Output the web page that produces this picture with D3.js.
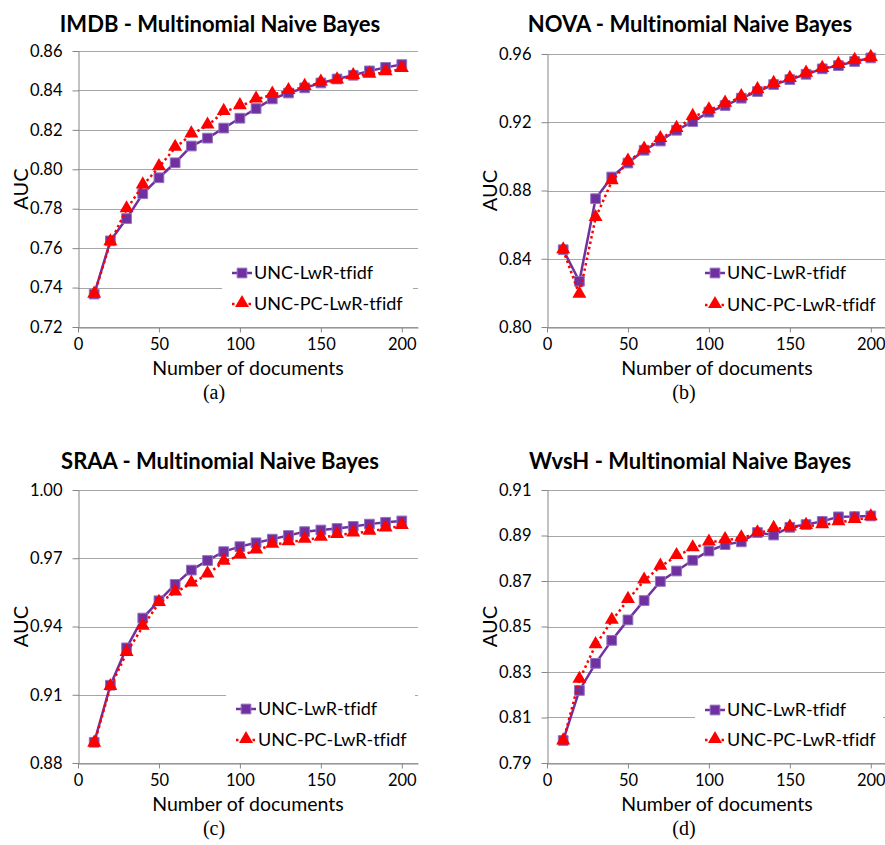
<!DOCTYPE html>
<html>
<head>
<meta charset="utf-8">
<script src="https://cdn.jsdelivr.net/npm/d3@7"></script>
<style>
  body { margin: 0; background: #fff; }
  svg { display: block; font-family: Lato, "Noto Sans", sans-serif; font-variant-ligatures: none; }
</style>
</head>
<body>
<svg id="drawing_region"></svg>
<script>
// number of documents (x values)
const docs = [10, 20, 30, 40, 50, 60, 70, 80, 90, 100, 110, 120, 130, 140, 150, 160, 170, 180, 190, 200];
const xTicks = [0, 50, 100, 150, 200];

const imdbLwr = [0.7367, 0.7637, 0.7750, 0.7876, 0.7957, 0.8033, 0.8118, 0.8158, 0.8209, 0.8259,
                 0.8308, 0.8357, 0.8387, 0.8413, 0.8438, 0.8458, 0.8477, 0.8499, 0.8517, 0.8531];
const imdbPc  = [0.7364, 0.7630, 0.7797, 0.7918, 0.8011, 0.8109, 0.8177, 0.8222, 0.8291, 0.8320,
                 0.8354, 0.8379, 0.8397, 0.8418, 0.8440, 0.8451, 0.8473, 0.8480, 0.8492, 0.8509];

const novaLwr = [0.8453, 0.8268, 0.8752, 0.8879, 0.8961, 0.9036, 0.9090, 0.9153, 0.9204, 0.9259,
                 0.9298, 0.9341, 0.9380, 0.9421, 0.9450, 0.9481, 0.9513, 0.9532, 0.9556, 0.9577];
const novaPc  = [0.8450, 0.8190, 0.8639, 0.8854, 0.8969, 0.9040, 0.9102, 0.9161, 0.9231, 0.9270,
                 0.9309, 0.9347, 0.9388, 0.9425, 0.9454, 0.9485, 0.9513, 0.9536, 0.9560, 0.9577];

const sraaLwr = [0.8891, 0.9142, 0.9306, 0.9437, 0.9513, 0.9585, 0.9648, 0.9690, 0.9729, 0.9751,
                 0.9768, 0.9784, 0.9800, 0.9817, 0.9824, 0.9831, 0.9840, 0.9850, 0.9858, 0.9864];
const sraaPc  = [0.8885, 0.9134, 0.9284, 0.9399, 0.9504, 0.9550, 0.9589, 0.9629, 0.9685, 0.9712,
                 0.9734, 0.9759, 0.9770, 0.9781, 0.9790, 0.9802, 0.9809, 0.9817, 0.9831, 0.9842];

const wvshLwr = [0.7999, 0.8219, 0.8338, 0.8439, 0.8529, 0.8614, 0.8698, 0.8744, 0.8791, 0.8832,
                 0.8860, 0.8872, 0.8913, 0.8902, 0.8936, 0.8948, 0.8962, 0.8982, 0.8983, 0.8986];
const wvshPc  = [0.7995, 0.8266, 0.8418, 0.8525, 0.8617, 0.8702, 0.8763, 0.8810, 0.8844, 0.8869,
                 0.8880, 0.8888, 0.8910, 0.8929, 0.8935, 0.8942, 0.8945, 0.8958, 0.8968, 0.8980];

const imdbTicks = [0.72, 0.74, 0.76, 0.78, 0.80, 0.82, 0.84, 0.86];
const novaTicks = [0.80, 0.84, 0.88, 0.92, 0.96];
const sraaTicks = [0.88, 0.91, 0.94, 0.97, 1.00];
const wvshTicks = [0.79, 0.81, 0.83, 0.85, 0.87, 0.89, 0.91];

const seriesNames = ['UNC-LwR-tfidf', 'UNC-PC-LwR-tfidf'];

const purple = '#7030a0';
const red = '#ff0000';

const svg = d3.select('#drawing_region')
    .attr('width', 885)
    .attr('height', 845);

const panels = [
    { title: 'IMDB - Multinomial Naive Bayes', caption: '(a)', lwr: imdbLwr, pc: imdbPc, ticks: imdbTicks,
      cx: 220, titleY: 32, left: 78, top: 51, bottom: 327, legend: {x: 222, y: 252, w: 191, h: 70, r1: 273, r2: 304} },
    { title: 'NOVA - Multinomial Naive Bayes', caption: '(b)', lwr: novaLwr, pc: novaPc, ticks: novaTicks,
      cx: 690, titleY: 32, left: 547, top: 54, bottom: 327, legend: {x: 695, y: 262, w: 188, h: 62, r1: 273, r2: 305} },
    { title: 'SRAA - Multinomial Naive Bayes', caption: '(c)', lwr: sraaLwr, pc: sraaPc, ticks: sraaTicks,
      cx: 220, titleY: 469, left: 78, top: 490, bottom: 763, legend: {x: 226, y: 690, w: 189, h: 66, r1: 709, r2: 740} },
    { title: 'WvsH - Multinomial Naive Bayes', caption: '(d)', lwr: wvshLwr, pc: wvshPc, ticks: wvshTicks,
      cx: 690, titleY: 469, left: 547, top: 490, bottom: 763, legend: {x: 695, y: 692, w: 188, h: 64, r1: 710, r2: 740} }
];

const square = d3.symbol().type(d3.symbolSquare).size(95);
const triangle = d3.symbol().type(d3.symbolTriangle).size(85);

panels.forEach(p => {
    const xscale = d3.scaleLinear().domain([0, 210]).range([p.left, p.left + 340]);
    const yscale = d3.scaleLinear()
        .domain([p.ticks[0], p.ticks[p.ticks.length - 1]])
        .range([p.bottom, p.top]);

    const g = svg.append('g');

    // gridlines
    g.selectAll('.grid')
        .data(p.ticks)
        .enter()
        .append('line')
        .attr('x1', p.left)
        .attr('x2', xscale(210))
        .attr('y1', d => Math.round(yscale(d)) + 0.5)
        .attr('y2', d => Math.round(yscale(d)) + 0.5)
        .attr('stroke', '#a6a6a6')
        .attr('stroke-width', 1);

    const xaxis = d3.axisBottom(xscale)
        .tickValues(xTicks)
        .tickSize(5)
        .tickSizeOuter(0)
        .tickPadding(6);
    const yaxis = d3.axisLeft(yscale)
        .tickValues(p.ticks)
        .tickSize(6)
        .tickSizeOuter(0)
        .tickPadding(10)
        .tickFormat(d3.format('.2f'));

    const xg = g.append('g')
        .attr('transform', `translate(0, ${Math.round(p.bottom) + 0.5})`)
        .call(xaxis);
    const yg = g.append('g')
        .attr('transform', `translate(${p.left + 0.5}, 0)`)
        .call(yaxis);

    [xg, yg].forEach(a => {
        a.select('.domain').attr('stroke', '#868686');
        a.selectAll('.tick line').attr('stroke', '#868686');
        a.selectAll('.tick text')
            .attr('fill', '#000')
            .style('font-size', '16.5px')
            .style('font-family', 'Lato, sans-serif');
    });

    // series 1: purple squares, solid
    const line = d3.line()
        .x((d, i) => xscale(docs[i]))
        .y(d => yscale(d));

    g.append('path')
        .attr('d', line(p.lwr))
        .attr('fill', 'none')
        .attr('stroke', purple)
        .attr('stroke-width', 2.5);

    g.selectAll('.sq')
        .data(p.lwr)
        .enter()
        .append('path')
        .attr('d', square)
        .attr('transform', (d, i) => `translate(${xscale(docs[i])}, ${yscale(d)})`)
        .attr('fill', purple)
        .attr('stroke', '#9273c0')
        .attr('stroke-width', 1);

    // series 2: red triangles, dotted
    g.append('path')
        .attr('d', line(p.pc))
        .attr('fill', 'none')
        .attr('stroke', red)
        .attr('stroke-width', 2.5)
        .attr('stroke-dasharray', '2.5,3');

    g.selectAll('.tri')
        .data(p.pc)
        .enter()
        .append('path')
        .attr('d', triangle)
        .attr('transform', (d, i) => `translate(${xscale(docs[i])}, ${yscale(d) - 1})`)
        .attr('fill', red);

    // legend
    const L = p.legend;
    g.append('rect')
        .attr('x', L.x).attr('y', L.y)
        .attr('width', L.w).attr('height', L.h)
        .attr('fill', '#fff');

    const sx = L.x + 10;
    g.append('line')
        .attr('x1', sx).attr('x2', sx + 20)
        .attr('y1', L.r1).attr('y2', L.r1)
        .attr('stroke', purple).attr('stroke-width', 2.5);
    g.append('path')
        .attr('d', square)
        .attr('transform', `translate(${sx + 10}, ${L.r1})`)
        .attr('fill', purple)
        .attr('stroke', '#9273c0');
    g.append('line')
        .attr('x1', sx).attr('x2', sx + 20)
        .attr('y1', L.r2).attr('y2', L.r2)
        .attr('stroke', red).attr('stroke-width', 2.5)
        .attr('stroke-dasharray', '2.5,3');
    g.append('path')
        .attr('d', triangle)
        .attr('transform', `translate(${sx + 10}, ${L.r2 - 1})`)
        .attr('fill', red);

    g.selectAll('.legtext')
        .data(seriesNames)
        .enter()
        .append('text')
        .attr('x', sx + 22)
        .attr('y', (d, i) => i === 0 ? L.r1 : L.r2)
        .attr('dy', '0.35em')
        .style('font-size', '18px')
        .text(d => d);

    // title
    svg.append('text')
        .attr('x', p.cx)
        .attr('y', p.titleY)
        .attr('text-anchor', 'middle')
        .style('font-size', '22px')
        .style('font-weight', 'bold')
        .text(p.title);

    // axis titles
    const midX = (p.left + xscale(210)) / 2;
    svg.append('text')
        .attr('x', midX)
        .attr('y', p.bottom + 41)
        .attr('dy', '0.35em')
        .attr('text-anchor', 'middle')
        .style('font-size', '19.5px')
        .text('Number of documents');

    svg.append('text')
        .attr('transform', `translate(${p.left - 57}, ${(p.top + p.bottom) / 2}) rotate(-90)`)
        .attr('dy', '0.35em')
        .attr('text-anchor', 'middle')
        .style('font-size', '20px')
        .text('AUC');

    // caption
    svg.append('text')
        .attr('x', p.cx - 6)
        .attr('y', p.bottom + 65)
        .attr('dy', '0.35em')
        .attr('text-anchor', 'middle')
        .style('font-family', '"Liberation Serif", serif')
        .style('font-size', '20px')
        .text(p.caption);
});
</script>
</body>
</html>
